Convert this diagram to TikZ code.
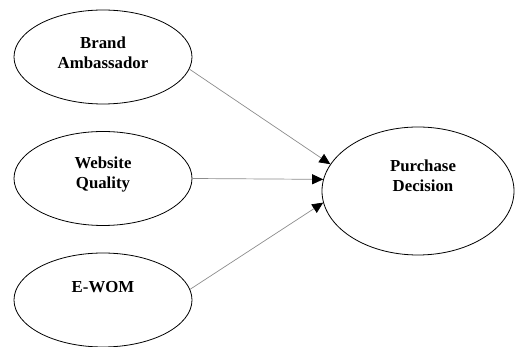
\documentclass[tikz,border=0pt]{standalone}
\usepackage{fontspec}
\setmainfont{Liberation Serif}
\usetikzlibrary{arrows.meta, positioning, shapes.geometric}

\begin{document}
\begin{tikzpicture}[x=1pt,y=-1pt,node distance=121.5pt,
    construct/.style={ellipse,draw,line width=0.8pt,minimum width=178pt,minimum height=94pt},
    caption/.style={align=center,font=\fontsize{16.8}{20}\selectfont\bfseries},
    path/.style={draw=black!45,line width=0.7pt,-{Triangle[length=11pt,width=10pt,color=black]}}]
  \useasboundingbox (0,0) rectangle (515,347);

  \node[construct] (ba) at (103,57)   [label={[caption,yshift=4pt]center:Brand\\Ambassador}] {};
  \node[construct] (wq) [below of=ba] [label={[caption,yshift=4pt]center:Website\\Quality}] {};
  \node[construct] (ew) [below of=wq] [label={[caption,yshift=13pt]center:E-WOM}] {};
  \node[construct,minimum width=192pt,minimum height=128pt] (pd) at (418,191)
    [label={[caption,xshift=5pt,yshift=15pt]center:Purchase\\Decision}] {};

  \path (ba.-8) edge[path] (pd.163)
        (wq.east) edge[path] (pd.173)
        (ew.7) edge[path] (pd.187);
\end{tikzpicture}
\end{document}
